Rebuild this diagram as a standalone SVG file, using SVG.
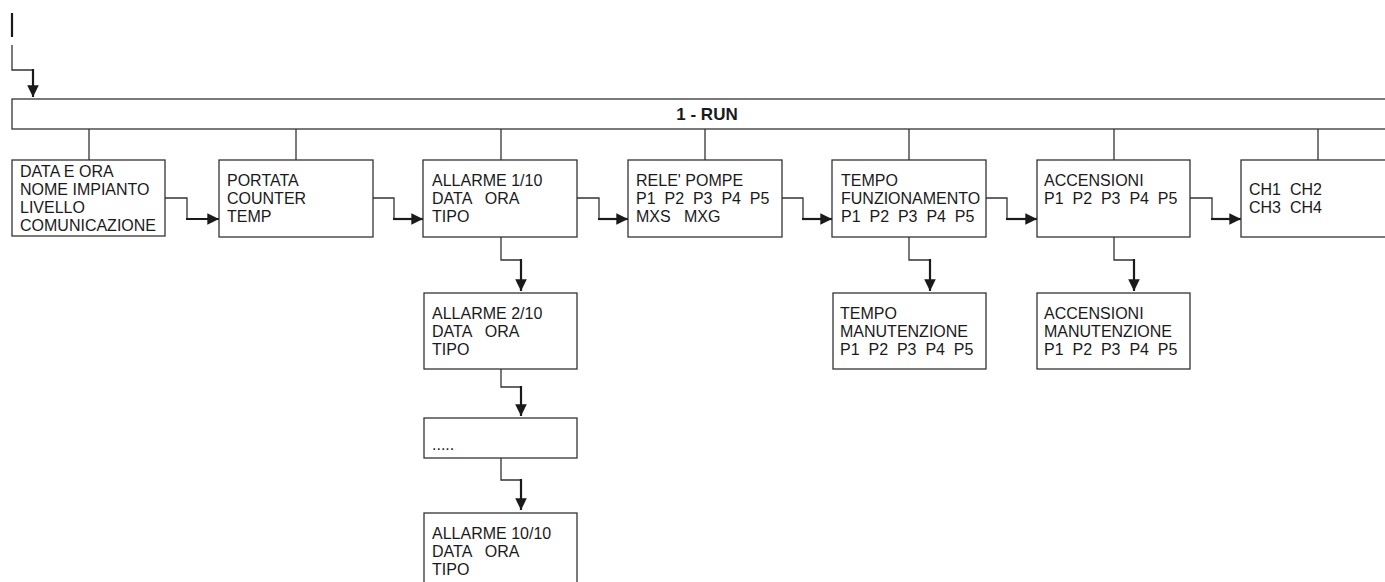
<svg xmlns="http://www.w3.org/2000/svg" width="1385" height="582" viewBox="0 0 1385 582">
<defs>
<style>
.box{fill:#fff;stroke:#333;stroke-width:1.3}
.t{font-family:"Liberation Sans",Arial,sans-serif;font-size:16px;fill:#1a1a1a;white-space:pre}
.b{font-family:"Liberation Sans",Arial,sans-serif;font-size:17px;font-weight:bold;fill:#1a1a1a;text-anchor:middle}
.thin{fill:none;stroke:#333;stroke-width:1.3}
.thick{fill:none;stroke:#1a1a1a;stroke-width:2.2}
</style>
<marker id="ah" viewBox="0 0 10 10" refX="10" refY="5" markerWidth="5.3" markerHeight="5.8" markerUnits="strokeWidth" orient="auto">
<path d="M0,0 L10,5 L0,10 Z" fill="#1a1a1a"/>
</marker>
</defs>
<rect width="1385" height="582" fill="#fff"/>

<g id="connectors">
<line x1="12" y1="13" x2="12" y2="37" stroke="#1a1a1a" stroke-width="2.2"/>
<polyline class="thin" points="12,45 12,70 33,70"/>
<line class="thick" x1="33" y1="69" x2="33" y2="97" marker-end="url(#ah)"/>
<line class="thin" x1="89" y1="129" x2="89" y2="160"/>
<line class="thin" x1="296" y1="129" x2="296" y2="160"/>
<line class="thin" x1="501" y1="129" x2="501" y2="160"/>
<line class="thin" x1="705" y1="129" x2="705" y2="160"/>
<line class="thin" x1="909" y1="129" x2="909" y2="160"/>
<line class="thin" x1="1114" y1="129" x2="1114" y2="160"/>
<line class="thin" x1="1318" y1="129" x2="1318" y2="160"/>

<polyline class="thin" points="165,198 187,198 187,219"/>
<line class="thick" x1="186" y1="219" x2="219" y2="219" marker-end="url(#ah)"/>
<polyline class="thin" points="373,198 394,198 394,219"/>
<line class="thick" x1="393" y1="219" x2="423" y2="219" marker-end="url(#ah)"/>
<polyline class="thin" points="577,198 599,198 599,219"/>
<line class="thick" x1="598" y1="219" x2="628" y2="219" marker-end="url(#ah)"/>
<polyline class="thin" points="782,198 803,198 803,219"/>
<line class="thick" x1="802" y1="219" x2="832" y2="219" marker-end="url(#ah)"/>
<polyline class="thin" points="986,198 1007,198 1007,219"/>
<line class="thick" x1="1006" y1="219" x2="1037" y2="219" marker-end="url(#ah)"/>
<polyline class="thin" points="1190,198 1212,198 1212,219"/>
<line class="thick" x1="1211" y1="219" x2="1241" y2="219" marker-end="url(#ah)"/>

<polyline class="thin" points="501,237 501,260 521,260"/>
<line class="thick" x1="521" y1="259" x2="521" y2="291" marker-end="url(#ah)"/>
<polyline class="thin" points="501,369 501,387 521,387"/>
<line class="thick" x1="521" y1="386" x2="521" y2="416" marker-end="url(#ah)"/>
<polyline class="thin" points="501,458 501,480 521,480"/>
<line class="thick" x1="521" y1="479" x2="521" y2="510" marker-end="url(#ah)"/>
<polyline class="thin" points="909,237 909,260 930,260"/>
<line class="thick" x1="930" y1="259" x2="930" y2="291" marker-end="url(#ah)"/>
<polyline class="thin" points="1114,237 1114,260 1134,260"/>
<line class="thick" x1="1134" y1="259" x2="1134" y2="291" marker-end="url(#ah)"/>
</g>

<g id="run">
<rect class="box" x="12" y="99" width="1390" height="30"/>
<text class="b" x="707" y="120">1 - RUN</text>
</g>

<g id="n1">
<rect class="box" x="12" y="160" width="153" height="76"/>
<text class="t" x="20" y="177">DATA E ORA</text>
<text class="t" x="20" y="195">NOME IMPIANTO</text>
<text class="t" x="20" y="213">LIVELLO</text>
<text class="t" x="20" y="231">COMUNICAZIONE</text>
</g>

<g id="n2">
<rect class="box" x="219" y="160" width="154" height="77"/>
<text class="t" x="227" y="186">PORTATA</text>
<text class="t" x="227" y="204">COUNTER</text>
<text class="t" x="227" y="222">TEMP</text>
</g>

<g id="n3">
<rect class="box" x="423" y="160" width="154" height="77"/>
<text class="t" x="432" y="186">ALLARME 1/10</text>
<text class="t" x="432" y="204">DATA   ORA</text>
<text class="t" x="432" y="222">TIPO</text>
</g>

<g id="n4">
<rect class="box" x="628" y="160" width="154" height="77"/>
<text class="t" x="636" y="186">RELE' POMPE</text>
<text class="t" x="636" y="204">P1  P2  P3  P4  P5</text>
<text class="t" x="636" y="222">MXS   MXG</text>
</g>

<g id="n5">
<rect class="box" x="832" y="160" width="154" height="77"/>
<text class="t" x="841" y="186">TEMPO</text>
<text class="t" x="841" y="204">FUNZIONAMENTO</text>
<text class="t" x="841" y="222">P1  P2  P3  P4  P5</text>
</g>

<g id="n6">
<rect class="box" x="1037" y="160" width="153" height="77"/>
<text class="t" x="1044" y="186">ACCENSIONI</text>
<text class="t" x="1044" y="204">P1  P2  P3  P4  P5</text>
</g>

<g id="n7">
<rect class="box" x="1241" y="160" width="160" height="77"/>
<text class="t" x="1249" y="195">CH1  CH2</text>
<text class="t" x="1249" y="213">CH3  CH4</text>
</g>

<g id="n8">
<rect class="box" x="424" y="293" width="153" height="76"/>
<text class="t" x="432" y="319">ALLARME 2/10</text>
<text class="t" x="432" y="337">DATA   ORA</text>
<text class="t" x="432" y="355">TIPO</text>
</g>

<g id="n9">
<rect class="box" x="424" y="418" width="153" height="40"/>
<text class="t" x="432" y="450">.....</text>
</g>

<g id="n10">
<rect class="box" x="424" y="513" width="153" height="90"/>
<text class="t" x="432" y="539">ALLARME 10/10</text>
<text class="t" x="432" y="557">DATA   ORA</text>
<text class="t" x="432" y="575">TIPO</text>
</g>

<g id="n11">
<rect class="box" x="833" y="293" width="153" height="76"/>
<text class="t" x="840" y="319">TEMPO</text>
<text class="t" x="840" y="337">MANUTENZIONE</text>
<text class="t" x="840" y="355">P1  P2  P3  P4  P5</text>
</g>

<g id="n12">
<rect class="box" x="1037" y="293" width="153" height="76"/>
<text class="t" x="1044" y="319">ACCENSIONI</text>
<text class="t" x="1044" y="337">MANUTENZIONE</text>
<text class="t" x="1044" y="355">P1  P2  P3  P4  P5</text>
</g>
</svg>
